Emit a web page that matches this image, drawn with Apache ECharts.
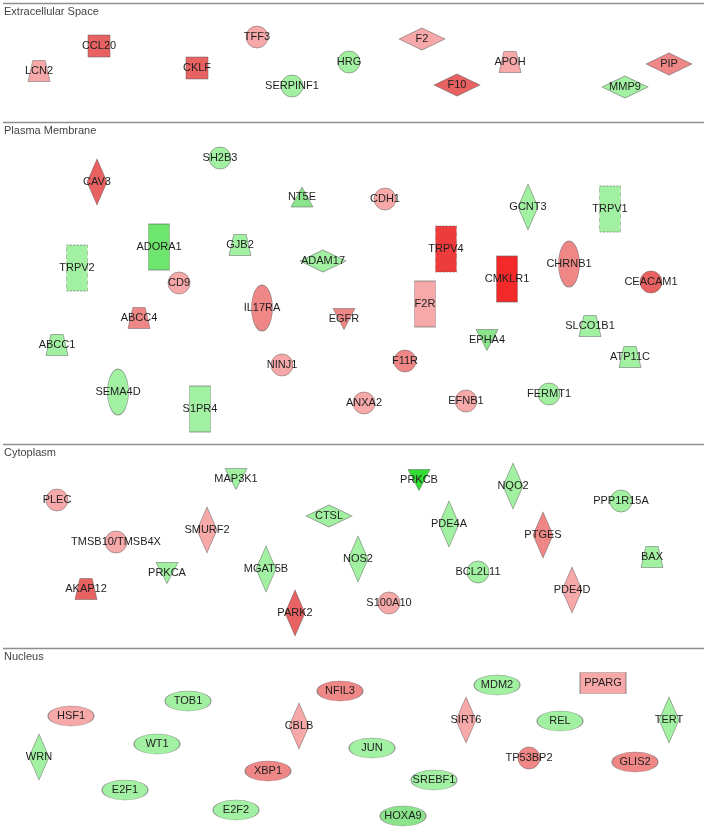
<!DOCTYPE html>
<html><head><meta charset="utf-8">
<script src="https://cdn.jsdelivr.net/npm/echarts@6/dist/echarts.min.js"></script>
<style>html,body{margin:0;padding:0;background:#fff}#c{width:706px;height:828px}</style>
</head><body><div id="c"></div>
<script>
// Compartments (layer name, upper boundary in layout units)
const compartmentNames = ['Extracellular Space', 'Plasma Membrane', 'Cytoplasm', 'Nucleus'];
const compartmentTop = [3, 122, 444, 648];

// Extracellular Space
const exNames = ['LCN2','CCL20','CKLF','TFF3','SERPINF1','HRG','F2','F10','APOH','MMP9','PIP'];
const exTypes = ['transporter','cytokine','cytokine','other','other','other','peptidase','peptidase','transporter','peptidase','peptidase'];
const exFold  = [1.2, 2.0, 2.0, 1.2, -1.2, -1.2, 1.2, 2.0, 1.2, -1.2, 1.6];
const exX     = [39, 99, 197, 257, 292, 349, 422, 457, 510, 625, 669];
const exY     = [71, 46, 68, 37, 86, 62, 39, 85, 62, 87, 64];

// Plasma Membrane
const pmNames = ['SH2B3','CAV3','NT5E','CDH1','GCNT3','TRPV1','ADORA1','GJB2','TRPV2','ADAM17','TRPV4','CMKLR1','CHRNB1','CEACAM1','CD9','IL17RA','F2R','ABCC4','EGFR','SLCO1B1','ABCC1','EPHA4','ATP11C','F11R','NINJ1','SEMA4D','FERMT1','EFNB1','ANXA2','S1PR4'];
const pmTypes = ['other','enzyme','phosphatase','other','enzyme','ion channel','gpcr','transporter','ion channel','peptidase','ion channel','gpcr','tm receptor','other','other','tm receptor','gpcr','transporter','kinase','transporter','transporter','kinase','transporter','other','other','tm receptor','other','other','other','gpcr'];
const pmFold  = [-1.2, 2.0, -1.4, 1.2, -1.2, -1.2, -2.0, -1.3, -1.2, -1.3, 2.6, 3.2, 1.6, 2.0, 1.2, 1.6, 1.2, 1.6, 1.5, -1.3, -1.3, -1.7, -1.2, 1.7, 1.2, -1.2, -1.2, 1.2, 1.2, -1.3];
const pmX     = [220, 97, 302, 385, 528, 610, 159, 240, 77, 323, 446, 507, 569, 651, 179, 262, 425, 139, 344, 590, 57, 487, 630, 405, 282, 118, 549, 466, 364, 200];
const pmY     = [158, 182, 197, 199, 207, 209, 247, 245, 268, 261, 249, 279, 264, 282, 283, 308, 304, 318, 319, 326, 345, 340, 357, 361, 365, 392, 394, 401, 403, 409];

// Cytoplasm
const cyNames = ['MAP3K1','PRKCB','NQO2','PLEC','PPP1R15A','CTSL','PDE4A','SMURF2','PTGES','TMSB10/TMSB4X','BAX','NOS2','MGAT5B','BCL2L11','PRKCA','AKAP12','PDE4D','S100A10','PARK2'];
const cyTypes = ['kinase','kinase','enzyme','other','other','peptidase','enzyme','enzyme','enzyme','other','transporter','enzyme','enzyme','other','kinase','transporter','enzyme','other','enzyme'];
const cyFold  = [-1.2, -3.0, -1.2, 1.2, -1.2, -1.2, -1.2, 1.2, 1.6, 1.2, -1.2, -1.2, -1.2, -1.2, -1.2, 2.0, 1.2, 1.2, 2.0];
const cyX     = [236, 419, 513, 57, 621, 329, 449, 207, 543, 116, 652, 358, 266, 478, 167, 86, 572, 389, 295];
const cyY     = [479, 480, 486, 500, 501, 516, 524, 530, 535, 542, 557, 559, 569, 572, 573, 589, 590, 603, 613];

// Nucleus
const nuNames = ['PPARG','MDM2','NFIL3','TOB1','HSF1','SIRT6','TERT','REL','CBLB','WT1','JUN','WRN','TP53BP2','GLIS2','XBP1','SREBF1','E2F1','E2F2','HOXA9'];
const nuTypes = ['nuclear receptor','transcription','transcription','transcription','transcription','enzyme','enzyme','transcription','enzyme','transcription','transcription','enzyme','other','transcription','transcription','transcription','transcription','transcription','transcription'];
const nuFold  = [1.2, -1.2, 1.6, -1.2, 1.2, 1.2, -1.2, -1.2, 1.2, -1.2, -1.2, -1.2, 1.6, 1.6, 1.5, -1.2, -1.2, -1.2, -1.5];
const nuX     = [603, 497, 340, 188, 71, 466, 669, 560, 299, 157, 372, 39, 529, 635, 268, 434, 125, 236, 403];
const nuY     = [683, 685, 691, 701, 716, 720, 720, 721, 726, 744, 748, 757, 758, 762, 771, 780, 790, 810, 816];

// ---- styling helpers (not data) ----
const ELLIPSE = 'path://M0,50 A50,50 0 1,1 100,50 A50,50 0 1,1 0,50 Z';
const TRAPEZOID = 'path://M22,0 L78,0 L100,100 L0,100 Z';
const TRI_DOWN = 'path://M0,0 L100,0 L50,100 Z';
const shapeOf = {
  'other': ['circle', [22, 22]],
  'cytokine': ['rect', [22, 22]],
  'gpcr': ['rect', [21, 46]],
  'ion channel': ['rect', [21, 46]],
  'transporter': [TRAPEZOID, [22, 21]],
  'peptidase': ['diamond', [46, 22]],
  'enzyme': ['diamond', [20, 46]],
  'phosphatase': ['triangle', [22, 20]],
  'kinase': [TRI_DOWN, [22, 21]],
  'tm receptor': [ELLIPSE, [21, 46]],
  'transcription': [ELLIPSE, [46, 20]],
  'nuclear receptor': ['rect', [46, 21]]
};
function colorOf(fc) {
  if (fc >= 3) return '#f42a2a';
  if (fc >= 2.4) return '#ee3c3c';
  if (fc >= 1.9) return '#e86262';
  if (fc >= 1.5) return '#f08787';
  if (fc > 0) return '#f7a9a9';
  if (fc <= -2.5) return '#33dd33';
  if (fc <= -1.9) return '#6ee66e';
  if (fc <= -1.4) return '#8be48b';
  return '#a2f0a2';
}
function buildNodes(names, types, fold, xs, ys) {
  return names.map((n, i) => {
    const s = shapeOf[types[i]];
    return {
      name: n,
      value: [xs[i], ys[i]],
      symbol: s[0],
      symbolSize: s[1],
      itemStyle: {
        color: colorOf(fold[i]),
        borderType: types[i] === 'ion channel' ? [3, 2] : 'solid'
      }
    };
  });
}
const nodes = [].concat(
  buildNodes(exNames, exTypes, exFold, exX, exY),
  buildNodes(pmNames, pmTypes, pmFold, pmX, pmY),
  buildNodes(cyNames, cyTypes, cyFold, cyX, cyY),
  buildNodes(nuNames, nuTypes, nuFold, nuX, nuY)
);

const chart = echarts.init(document.getElementById('c'), null, {renderer: 'canvas'});
chart.setOption({
  animation: false,
  backgroundColor: '#ffffff',
  grid: {left: 3, right: 2, top: 0, bottom: 0},
  xAxis: {type: 'value', min: 3, max: 704, show: false},
  yAxis: {type: 'value', min: 0, max: 828, inverse: true, show: false},
  series: [
    {
      type: 'scatter',
      data: [],
      silent: true,
      markLine: {
        silent: true,
        symbol: ['none', 'none'],
        lineStyle: {color: '#8e8e8e', width: 1.4, type: 'solid', opacity: 1},
        label: {
          show: true,
          position: 'insideStartBottom',
          distance: [1, 3],
          formatter: '{b}',
          color: '#444444',
          fontSize: 11,
          fontFamily: 'Liberation Sans, Arial, sans-serif'
        },
        data: compartmentNames.map((n, i) => ({name: n, yAxis: compartmentTop[i]}))
      }
    },
    {
      type: 'scatter',
      data: nodes,
      itemStyle: {borderColor: 'rgba(90,90,90,0.6)', borderWidth: 0.8, opacity: 1},
      label: {
        show: true,
        position: 'inside',
        formatter: '{b}',
        color: '#1e1e1e',
        textBorderWidth: 0,
        opacity: 1,
        fontSize: 11,
        fontFamily: 'Liberation Sans, Arial, sans-serif'
      },
      emphasis: {disabled: true}
    }
  ]
});
</script>
</body></html>
